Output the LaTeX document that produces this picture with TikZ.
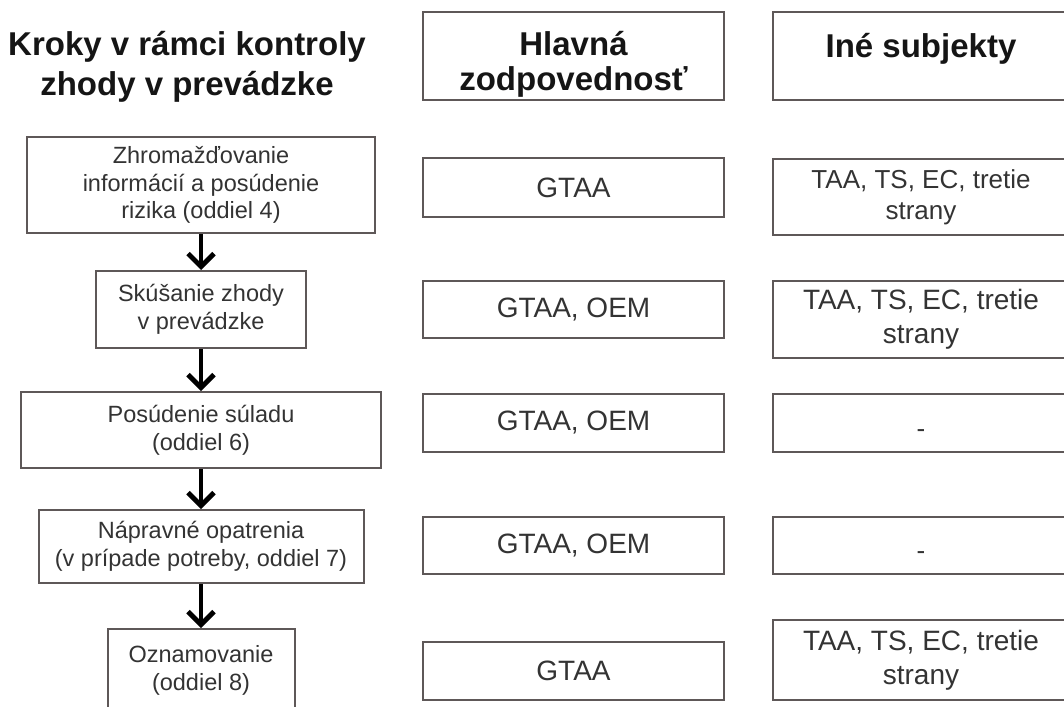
\documentclass[tikz,border=0pt]{standalone}
\usepackage{fontspec}
\setmainfont{Liberation Sans}
\usetikzlibrary{arrows.meta}
\definecolor{boxline}{HTML}{5E5858}
\definecolor{bodytext}{HTML}{333333}
\definecolor{headtext}{HTML}{151515}
\begin{document}
\begin{tikzpicture}[x=1pt,y=-1pt,
  box/.style={draw=boxline, line width=2pt, inner sep=0pt, align=center, text=bodytext},
  headfont/.style={font=\fontsize{33}{35}\selectfont\bfseries, text=headtext, align=center, inner sep=0pt},
  titlefont/.style={font=\fontsize{33}{40}\selectfont\bfseries, text=headtext, align=center, inner sep=0pt},
  stepfont/.style={font=\fontsize{23.5}{27.8}\selectfont},
  midfont/.style={font=\fontsize{28}{32}\selectfont},
  rightfont/.style={font=\fontsize{26}{31}\selectfont},
  rightbig/.style={font=\fontsize{28}{34}\selectfont},
  flow/.style={-{Straight Barb[length=13pt,width=26pt]}, line width=4.8pt, black}
]
\useasboundingbox (0,0) rectangle (1064,706);
\clip (0,0) rectangle (1064,706);

% headers
\node[titlefont] (title) at (187,67) {Kroky v rámci kontroly\\zhody v prevádzke};
\node[box, minimum width=301, minimum height=88] (hmain) at (573.5,56) {};
\node[headfont] (hmaintext) at (573.5,64) {Hlavná\\zodpovednosť};
\node[box, minimum width=296, minimum height=88] (hother) at (921,56) {};
\node[headfont] (hothertext) at (921,49) {Iné subjekty};

% left steps
\node[box, stepfont, minimum width=348, minimum height=96] (s1) at (201,185) {\raisebox{-3pt}{\parbox{340pt}{\centering Zhromažďovanie\\informácií a posúdenie\\rizika (oddiel 4)}}};
\node[box, stepfont, minimum width=210, minimum height=77] (s2) at (201,309.5) {Skúšanie zhody\\v prevádzke};
\node[box, stepfont, minimum width=360, minimum height=76] (s3) at (201,430) {Posúdenie súladu\\(oddiel 6)};
\node[box, stepfont, minimum width=325, minimum height=73] (s4) at (201,546.5) {Nápravné opatrenia\\(v prípade potreby, oddiel 7)};
\node[box, stepfont, minimum width=187, minimum height=83] (s5) at (201,670.5) {Oznamovanie\\(oddiel 8)};

\draw[flow] (s1) -- (s2);
\draw[flow] (s2) -- (s3);
\draw[flow] (s3) -- (s4);
\draw[flow] (s4) -- (s5);

% middle column
\node[box, midfont, minimum width=301, minimum height=59] (m1) at (573.5,187.5) {GTAA};
\node[box, midfont, minimum width=301, minimum height=57] (m2) at (573.5,309.5) {GTAA, OEM};
\node[box, midfont, minimum width=301, minimum height=58] (m3) at (573.5,423) {GTAA, OEM};
\node[box, midfont, minimum width=301, minimum height=57] (m4) at (573.5,545.5) {GTAA, OEM};
\node[box, midfont, minimum width=301, minimum height=58] (m5) at (573.5,671) {GTAA};

% right column
\node[box, rightfont, minimum width=296, minimum height=76] (r1) at (921,197) {TAA, TS, EC, tretie\\strany};
\node[box, rightbig, minimum width=296, minimum height=77] (r2) at (921,319.5) {TAA, TS, EC, tretie\\strany};
\node[box, rightfont, minimum width=296, minimum height=58] (r3) at (921,423) {\raisebox{-14pt}[0pt][0pt]{-}};
\node[box, rightfont, minimum width=296, minimum height=57] (r4) at (921,545.5) {\raisebox{-14pt}[0pt][0pt]{-}};
\node[box, rightbig, minimum width=296, minimum height=80] (r5) at (921,660) {TAA, TS, EC, tretie\\strany};
\end{tikzpicture}
\end{document}
